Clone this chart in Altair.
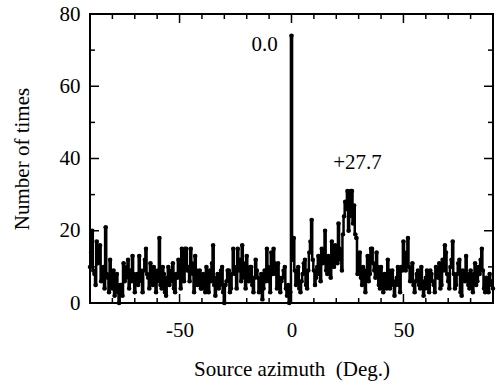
import altair as alt
import pandas as pd

azimuth = [i * 0.5 - 90 for i in range(361)]
counts = [
    10, 14, 20, 9, 8, 5, 17, 11, 12, 16, 6, 9, 10, 4, 21, 8, 7, 3, 12, 6,        # -90..-80.5
    4, 9, 2, 6, 8, 3, 0, 5, 5, 2, 11, 6, 7, 10, 12, 4, 9, 6, 13, 8,             # -80..-70.5
    3, 7, 8, 5, 13, 9, 6, 3, 9, 12, 15, 8, 7, 4, 11, 6, 5, 10, 9, 3,            # -70..-60.5
    6, 9, 18, 5, 4, 10, 8, 3, 2, 7, 10, 5, 6, 9, 11, 4, 3, 8, 7, 12,            # -60..-50.5
    9, 4, 15, 7, 6, 15, 15, 9, 10, 6, 15, 11, 8, 3, 13, 9, 5, 7, 9, 4,          # -50..-40.5
    4, 8, 7, 3, 10, 6, 3, 9, 6, 11, 16, 5, 2, 7, 8, 4, 5, 9, 10, 3,             # -40..-30.5
    0, 5, 6, 9, 9, 3, 4, 8, 15, 10, 8, 4, 15, 9, 12, 6, 16, 11, 7, 4,           # -30..-20.5
    13, 8, 6, 10, 10, 5, 3, 7, 12, 9, 7, 3, 5, 8, 1, 4, 9, 6, 15, 10,           # -20..-10.5
    6, 3, 14, 8, 15, 11, 8, 4, 11, 7, 3, 6, 7, 9, 10, 4, 2, 5, 0, 3,            # -10..-0.5
    74,                                                                          # 0
    12, 18, 9, 5, 7, 10, 4, 3, 6, 8, 11, 12, 5, 4, 9, 14, 17, 23, 12, 9,        # 0.5..10
    5, 7, 10, 13, 8, 6, 15, 11, 14, 20, 9, 8, 13, 12, 7, 17, 12, 10, 16, 14,    # 10.5..20
    11, 22, 15, 12, 9, 19, 24, 28, 26, 31, 20, 24, 31, 31, 22, 27, 19, 18, 8, 12,  # 20.5..30
    14, 7, 5, 10, 8, 3, 9, 13, 6, 8, 15, 15, 11, 9, 7, 14, 10, 5, 4, 10,        # 30.5..40
    7, 3, 8, 6, 4, 12, 9, 4, 5, 9, 6, 2, 5, 7, 10, 5, 3, 10, 9, 17,             # 40.5..50
    12, 9, 14, 18, 10, 6, 8, 11, 5, 3, 6, 8, 9, 5, 4, 10, 6, 2, 4, 7,           # 50.5..60
    9, 4, 3, 9, 8, 6, 5, 3, 10, 8, 7, 11, 4, 5, 12, 9, 16, 14, 8, 6,            # 60.5..70
    4, 10, 12, 17, 8, 4, 5, 8, 11, 12, 3, 2, 9, 7, 6, 13, 8, 5, 4, 9,           # 70.5..80
    6, 3, 8, 11, 5, 6, 10, 8, 12, 15, 9, 4, 3, 7, 5, 3, 8, 6, 5, 4,             # 80.5..90
]

y_major = [0, 20, 40, 60, 80]
y_minor = [10, 30, 50, 70]
x_major = [-50, 0, 50]
x_minor = [-80, -70, -60, -40, -30, -20, -10, 10, 20, 30, 40, 60, 70, 80]

note_text = ["0.0", "+27.7"]
note_x = [-12, 29.5]
note_y = [71.5, 38.8]

W, H = 403, 289
FONT = "Liberation Serif"

df = pd.DataFrame({"az": azimuth, "n": counts})
notes = pd.DataFrame({"t": note_text, "x": note_x, "y": note_y})

xs = alt.Scale(domain=[-90, 90], nice=False, zero=False)
ys = alt.Scale(domain=[0, 80], nice=False)

line = alt.Chart(df).mark_line(
    interpolate="step", color="black", strokeWidth=2.5,
    point=alt.OverlayMarkDef(filled=True, color="black", size=20),
).encode(
    x=alt.X("az:Q", scale=xs, axis=alt.Axis(
        values=x_major, labelExpr="datum.value", title="Source azimuth\u00a0 (Deg.)",
        ticks=False, domain=False, grid=False, labelPadding=16, titlePadding=18,
    )),
    y=alt.Y("n:Q", scale=ys, axis=alt.Axis(
        values=y_major, labelExpr="datum.value", title="Number of times",
        ticks=False, domain=False, grid=False, labelPadding=10, titlePadding=27,
    )),
)

text = alt.Chart(notes).mark_text(
    font=FONT, fontSize=21, color="black", align="center", baseline="middle"
).encode(
    x=alt.X("x:Q", scale=xs), y=alt.Y("y:Q", scale=ys), text="t:N"
)


def yticks(vals, length, side):
    d = pd.DataFrame({"v": vals})
    if side == "left":
        x1, x2 = 0, length
    else:
        x1, x2 = W - length, W
    return alt.Chart(d).mark_rule(color="black", strokeWidth=1.5).encode(
        y=alt.Y("v:Q", scale=ys), x=alt.value(x1), x2=alt.value(x2)
    )


def xticks(vals, length, side):
    d = pd.DataFrame({"v": vals})
    if side == "top":
        y1, y2 = 0, length
    else:
        y1, y2 = H - length, H
    return alt.Chart(d).mark_rule(color="black", strokeWidth=1.5).encode(
        x=alt.X("v:Q", scale=xs), y=alt.value(y1), y2=alt.value(y2)
    )


layers = [
    line,
    yticks(y_major, 9, "left"), yticks(y_minor, 5, "left"),
    yticks(y_major, 9, "right"), yticks(y_minor, 5, "right"),
    xticks(x_major, 9, "top"), xticks(x_minor, 5, "top"),
    xticks(x_major, 9, "bottom"), xticks(x_minor, 5, "bottom"),
    text,
]

chart = alt.layer(*layers).properties(
    width=W, height=H,
    autosize=alt.AutoSizeParams(type="none"),
    padding={"left": 90, "top": 14, "right": 9, "bottom": 85},
    background="white",
).configure_view(
    stroke="black", strokeWidth=2
).configure_axis(
    labelFont=FONT, titleFont=FONT, labelFontSize=21, titleFontSize=21,
    labelColor="black", titleColor="black", titleFontWeight="normal",
)

chart.save("out.html", embed_options={"renderer": "svg", "actions": False})
